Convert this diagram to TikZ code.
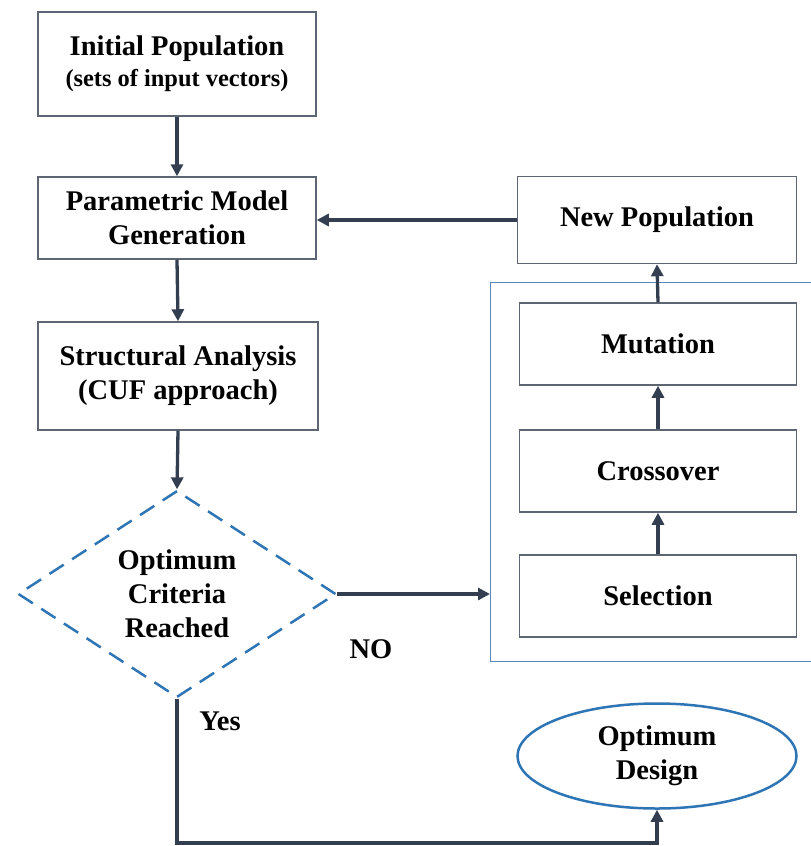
\documentclass[tikz,border=0pt]{standalone}
\usepackage{fontspec}
\setmainfont{Liberation Serif}
\usetikzlibrary{shapes.geometric,arrows.meta}
\definecolor{arrowc}{HTML}{333F50}
\definecolor{boxc}{HTML}{5F6673}
\definecolor{bluec}{HTML}{2E75B6}
\definecolor{outerc}{HTML}{5B87BD}
\tikzset{
  every node/.style={font=\fontsize{28.5}{34}\selectfont\bfseries, align=center},
  procbox/.style={draw=boxc, line width=1.5pt, rectangle, inner sep=0pt},
  conn/.style={draw=arrowc, line width=3.3pt, -{Triangle[length=12pt,width=12pt]}},
  decision/.style={diamond, draw=bluec, line width=2.5pt, dash pattern=on 17pt off 10pt, inner sep=0pt, minimum width=318pt, minimum height=202pt},
  terminal/.style={ellipse, draw=bluec, line width=2.5pt, inner sep=0pt, minimum width=279pt, minimum height=105pt},
  outerbox/.style={draw=outerc, line width=1.2pt, rectangle, inner sep=0pt},
  lbl/.style={inner sep=0pt}
}
\begin{document}
\begin{tikzpicture}[x=1pt,y=-1pt]
\useasboundingbox (0,0) rectangle (811,846);
\clip (0,0) rectangle (811,846);
\node[procbox, minimum width=278pt, minimum height=104pt] (init) at (177,64)
  {\rule{0pt}{4pt}Initial Population\\[-3pt]{\fontsize{24.4}{28}\selectfont (sets of input vectors)}};
\node[procbox, minimum width=278pt, minimum height=82pt] (param) at (177,218) {Parametric Model\\Generation};
\node[procbox, minimum width=280pt, minimum height=108pt] (struct) at (178,376) {Structural Analysis\\(CUF approach)};
\node[decision] (dia) at (177,594) {Optimum\\Criteria\\Reached};
\node[outerbox, minimum width=335pt, minimum height=379pt, anchor=north west] (ga) at (490,282) {};
\node[procbox, minimum width=279pt, minimum height=87pt] (newpop) at (657,220) {New Population};
\node[procbox, minimum width=277pt, minimum height=82pt] (mut) at (658,344) {Mutation};
\node[procbox, minimum width=277pt, minimum height=82pt] (cross) at (658,471) {Crossover};
\node[procbox, minimum width=277pt, minimum height=82pt] (sel) at (658,596) {Selection};
\node[terminal] (opt) at (657,756) {Optimum\\Design};
\node[lbl] (no) at (371,649) {NO};
\node[lbl] (yes) at (220,721) {Yes};
\coordinate (bl) at (177,843);
\draw[conn] (init.south) -- (param.north);
\draw[conn] (param.south) -- (struct.north);
\draw[conn] (struct.south) -- (dia.north);
\draw[conn] (dia.east) -- (dia.east -| ga.west);
\draw[conn] (sel.north) -- (cross.south);
\draw[conn] (cross.north) -- (mut.south);
\draw[conn] (mut.north) -- (newpop.south);
\draw[conn] (newpop.west) -- (newpop.west -| param.east);
\draw[conn] (dia.south) -- (bl) -| (opt.south);
\end{tikzpicture}
\end{document}
